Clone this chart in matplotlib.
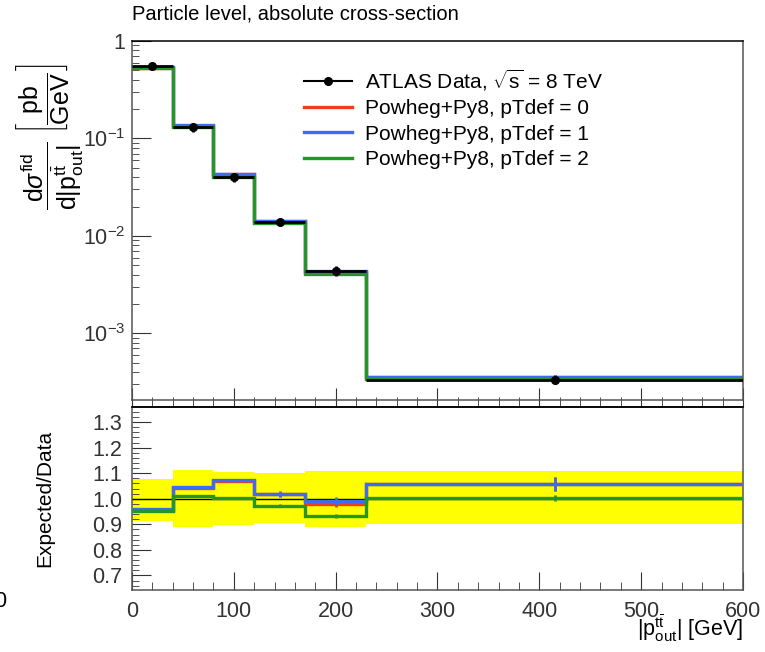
import matplotlib
matplotlib.use("Agg")
import matplotlib.pyplot as plt
import numpy as np
from matplotlib.lines import Line2D
from matplotlib.ticker import MultipleLocator, LogLocator, FuncFormatter, NullFormatter, FormatStrFormatter

plt.rcParams.update({
    "font.family": "Liberation Sans",
    "mathtext.fontset": "custom",
    "mathtext.rm": "Liberation Sans",
    "mathtext.it": "Liberation Sans:italic",
    "mathtext.bf": "Liberation Sans:bold",
    "axes.linewidth": 1.1,
})

RED = "#f03c1e"
BLUE = "#3c6cf0"
GREEN = "#23962a"
YELLOW = "#ffff00"

# ---- data --------------------------------------------------------------------
BIN_EDGES = [0, 40, 80, 120, 170, 230, 600]
DATA = [0.558, 0.130, 0.0402, 0.01395, 0.00438, 3.36e-4]
DATA_REL_UP = [0.077, 0.112, 0.103, 0.102, 0.108, 0.108]
DATA_REL_DN = [0.086, 0.112, 0.104, 0.096, 0.110, 0.098]

PTDEF0 = [0.533, 0.1353, 0.04301, 0.01419, 0.004292, 3.555e-4]
PTDEF1 = [0.536, 0.1361, 0.04313, 0.01420, 0.004345, 3.558e-4]
PTDEF2 = [0.531, 0.1316, 0.04036, 0.01357, 0.004078, 3.370e-4]

# relative MC stat. uncertainty (ratio panel error bars)
PTDEF0_STAT = [0.003, 0.004, 0.005, 0.010, 0.012, 0.026]
PTDEF1_STAT = [0.003, 0.004, 0.005, 0.012, 0.015, 0.026]
PTDEF2_STAT = [0.003, 0.004, 0.004, 0.006, 0.008, 0.013]

LABELS = ["Powheg+Py8, pTdef = 0", "Powheg+Py8, pTdef = 1", "Powheg+Py8, pTdef = 2"]

edges = np.array(BIN_EDGES, dtype=float)
centers = 0.5 * (edges[:-1] + edges[1:])
half = 0.5 * np.diff(edges)
data = np.array(DATA)
mcs = [np.array(PTDEF0), np.array(PTDEF1), np.array(PTDEF2)]
stats = [np.array(PTDEF0_STAT), np.array(PTDEF1_STAT), np.array(PTDEF2_STAT)]
colors = [RED, BLUE, GREEN]

fig = plt.figure(figsize=(7.65, 6.52), dpi=100)
ax = fig.add_axes([0.17255, 0.38650, 0.79869, 0.55061])
ax2 = fig.add_axes([0.17255, 0.09509, 0.79869, 0.28067])

GRAY = "#555555"
for a in (ax, ax2):
    for s in ("left", "right", "bottom"):
        a.spines[s].set_color(GRAY)
    a.spines["top"].set_color("black")

# ---- top panel ---------------------------------------------------------------
for mc, c in zip(mcs, colors):
    ax.stairs(mc, edges, baseline=None, color=c, lw=2.4, zorder=2)
ax.errorbar(centers, data, xerr=half, yerr=[data * np.array(DATA_REL_DN), data * np.array(DATA_REL_UP)],
            fmt="o", color="black", ms=5.5, elinewidth=2.0, capsize=0, zorder=4)

ax.set_yscale("log")
ax.set_xlim(0, 600)
ax.set_ylim(2.07e-4, 1)
ax.xaxis.set_major_locator(MultipleLocator(100))
ax.xaxis.set_minor_locator(MultipleLocator(20))
ax.yaxis.set_major_locator(LogLocator(base=10, numticks=10))
ax.yaxis.set_minor_locator(LogLocator(base=10, subs=np.arange(2, 10), numticks=20))
ax.yaxis.set_minor_formatter(NullFormatter())
ax.yaxis.set_major_formatter(FuncFormatter(
    lambda v, p: "1" if abs(v - 1) < 1e-9 else r"$10^{%d}$" % round(np.log10(v))))
ax.tick_params(which="both", direction="in", top=False, right=False, labelbottom=False,
               labelsize=15.5, colors="#333333")
ax.tick_params(axis="y", which="major", length=13.7, pad=5)
ax.tick_params(axis="y", which="minor", length=5)
ax.tick_params(axis="x", which="major", length=8.6)
ax.tick_params(axis="x", which="minor", length=2.5)

handles = [Line2D([], [], color="black", lw=1.5, marker="o", ms=5.5)]
handles += [Line2D([], [], color=c, lw=2.4) for c in colors]
ax.legend(handles, ["ATLAS Data, $\\sqrt{\\mathrm{s}}$ = 8 TeV"] + LABELS,
          loc="upper left", bbox_to_anchor=(0.2815, 0.925), frameon=False, fontsize=15,
          borderpad=0, borderaxespad=0, handlelength=2.3, handletextpad=0.65, labelspacing=0.3)

fig.text(0.1725, 0.978, "Particle level, absolute cross-section", ha="left", va="center", fontsize=14.5)
fig.text(0.066, 0.790,
         r"$\dfrac{\mathrm{d}\sigma^{\mathrm{fid}}}{\mathrm{d|p^{t\bar{t}}_{out}|}}\ "
         r"\left[\dfrac{\mathrm{pb}}{\mathrm{GeV}}\right]$",
         rotation=90, ha="center", va="center", fontsize=18)

# ---- ratio panel -------------------------------------------------------------
ax2.stairs(1 + np.array(DATA_REL_UP), edges, baseline=1 - np.array(DATA_REL_DN), fill=True,
           color=YELLOW, lw=0, zorder=1)
ax2.axhline(1.0, color="black", lw=1.0, zorder=2)
for mc, st, c in zip(mcs, stats, colors):
    r = mc / data
    ax2.stairs(r, edges, baseline=None, color=c, lw=2.4, zorder=3)
    ax2.errorbar(centers, r, yerr=r * st, fmt="none", ecolor=c, elinewidth=2.0, capsize=0, zorder=3)

ax2.set_xlim(0, 600)
ax2.set_ylim(0.643, 1.359)
ax2.xaxis.set_major_locator(MultipleLocator(100))
ax2.xaxis.set_minor_locator(MultipleLocator(20))
ax2.yaxis.set_major_locator(MultipleLocator(0.1))
ax2.yaxis.set_minor_locator(MultipleLocator(0.02))
ax2.yaxis.set_major_formatter(FormatStrFormatter("%.1f"))
ax2.tick_params(which="both", direction="in", top=False, right=False, labelsize=15.5, colors="#333333")
ax2.tick_params(axis="y", which="major", length=14, pad=7)
ax2.tick_params(axis="y", which="minor", length=5)
ax2.tick_params(axis="x", which="major", length=13, pad=8)
ax2.tick_params(axis="x", which="minor", length=5.5)

sec = ax2.secondary_xaxis("top")
sec.xaxis.set_major_locator(MultipleLocator(100))
sec.xaxis.set_minor_locator(MultipleLocator(20))
sec.tick_params(which="both", direction="out", length=5, labeltop=False, colors="#333333")
sec.spines["top"].set_color("black")

ax2.set_ylabel("Expected/Data", fontsize=15)
ax2.yaxis.set_label_coords(-0.128, 0.5)
fig.text(0.9712, 0.036, r"$\mathrm{|p^{t\bar{t}}_{out}|}$ [GeV]", ha="right", va="center", fontsize=15.5)
fig.text(0.008, 0.077, "0", ha="right", va="center", fontsize=15.5)

fig.savefig("out.png", dpi=100)
